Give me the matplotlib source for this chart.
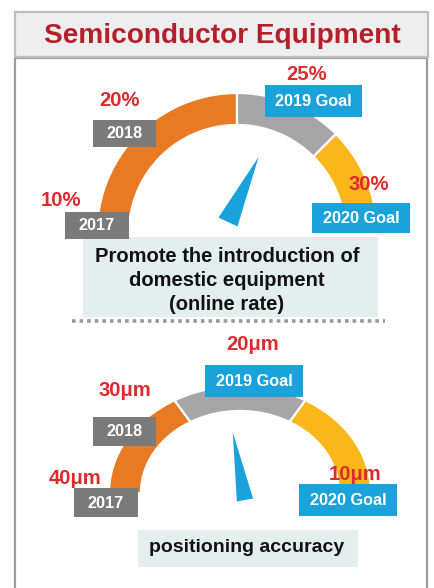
import numpy as np
import matplotlib
matplotlib.use("Agg")
import matplotlib.pyplot as plt
from matplotlib.patches import Rectangle, Polygon

# ---------------- data ----------------
title = "Semiconductor Equipment"
years = ["2017", "2018", "2019 Goal", "2020 Goal"]

g1_values = [10, 20, 25, 30]
g1_labels = ["10%", "20%", "25%", "30%"]
g1_needle = 22.8
g1_caption = ["Promote the introduction of", "domestic equipment", "(online rate)"]

g2_values = [40, 30, 20, 10]
g2_labels = ["40\u03bcm", "30\u03bcm", "20\u03bcm", "10\u03bcm"]
g2_needle = 26.4
g2_caption = ["positioning accuracy"]

# ---------------- style ----------------
ORANGE = "#E87A24"
GRAY = "#A6A6A6"
YELLOW = "#FBB719"
BLUE = "#1AA3DB"
DGRAY = "#7A7A7A"
RED = "#DC2A2E"
TRED = "#B41F2C"
MINT = "#E3EFEC"
FONT = ["Liberation Sans", "DejaVu Sans"]
seg_colors = [ORANGE, GRAY, YELLOW]

fig = plt.figure(figsize=(4.34, 5.88), dpi=100)
ax = fig.add_axes([0, 0, 1, 1])
ax.set_xlim(0, 434)
ax.set_ylim(588, 0)
ax.axis("off")

# frame / title band
ax.add_patch(Rectangle((15, 58), 412, 540, facecolor="white", edgecolor="#9C9C9C", lw=1.6, zorder=0))
ax.add_patch(Rectangle((15, 12), 413, 45, facecolor="#EEEEEE", edgecolor="#BDBDBD", lw=1.6, zorder=1))
ax.text(222, 36, title, color=TRED, fontsize=20.2, fontweight="bold", family=FONT,
        ha="center", va="center", zorder=2)


def val_to_theta(v, vals):
    v0, v1 = vals[0], vals[-1]
    return np.pi * (1 - (v - v0) / (v1 - v0))


def draw_gauge(vals, cx, cy, ao, bo, ai, bi):
    th = [val_to_theta(v, vals) for v in vals]
    for k in range(len(vals) - 1):
        t = np.linspace(th[k], th[k + 1], 80)
        xo = cx + ao * np.cos(t)
        yo = cy - bo * np.sin(t)
        xi = cx + ai * np.cos(t[::-1])
        yi = cy - bi * np.sin(t[::-1])
        pts = np.column_stack([np.r_[xo, xi], np.r_[yo, yi]])
        ax.add_patch(Polygon(pts, closed=True, facecolor=seg_colors[k], edgecolor="white",
                             lw=1.6, zorder=3))


def draw_needle(v, vals, bx, by, ax_, by_, length, width):
    t = val_to_theta(v, vals)
    d = np.array([ax_ * np.cos(t), -by_ * np.sin(t)])
    d = d / np.hypot(*d)
    p = np.array([-d[1], d[0]])
    base = np.array([bx, by])
    tip = base + d * length
    pts = np.array([base + p * width / 2, base - p * width / 2, tip])
    ax.add_patch(Polygon(pts, closed=True, facecolor=BLUE, edgecolor="none", zorder=4))


def draw_box(x, y, w, h, color, text):
    ax.add_patch(Rectangle((x, y), w, h, facecolor=color, edgecolor="none", zorder=5))
    ax.text(x + w / 2, y + h / 2 + 0.5, text, color="white", fontsize=11.7, fontweight="bold",
            family=FONT, ha="center", va="center", zorder=6)


# ---------------- gauge 1 ----------------
draw_gauge(g1_values, 237, 233, 140, 140, 108, 108)
draw_needle(g1_needle, g1_values, 228, 222, 1, 1, 72, 21)
g1_boxes = [(65, 212, 64, 27), (93, 120, 63, 27), (265, 85, 97, 32), (312, 203, 98, 30)]
g1_lab_pos = [(61, 200), (120, 101), (307, 74), (369, 184)]
for i, (bx, lbl, lp) in enumerate(zip(g1_boxes, g1_labels, g1_lab_pos)):
    draw_box(*bx, DGRAY if i < 2 else BLUE, years[i])
    ax.text(lp[0], lp[1], lbl, color=RED, fontsize=14.6, fontweight="bold", family=FONT,
            ha="center", va="center", zorder=7)

ax.add_patch(Rectangle((83, 237), 295, 80, facecolor=MINT, edgecolor="none", zorder=2))
for j, line in enumerate(g1_caption):
    ax.text(227, 257 + 24 * j, line, color="#111111", fontsize=14.5, fontweight="bold",
            family=FONT, ha="center", va="center", zorder=3)

# dotted separator
ax.plot([72, 385], [321, 321], color="#9A9A9A", lw=2.6, ls=(0, (1.0, 1.1)), zorder=3,
        solid_capstyle="butt", dash_capstyle="butt")

# ---------------- gauge 2 ----------------
draw_gauge(g2_values, 240, 493, 131, 107, 99, 82)
draw_needle(g2_needle, g2_values, 245, 500, 131, 107, 69, 16.5)
g2_boxes = [(74, 488, 64, 29), (93, 417, 63, 29), (205, 365, 98, 32), (299, 484, 98, 32)]
g2_lab_pos = [(75, 479), (125, 390), (253, 345), (355, 474)]
for i, (bx, lbl, lp) in enumerate(zip(g2_boxes, g2_labels, g2_lab_pos)):
    draw_box(*bx, DGRAY if i < 2 else BLUE, years[i])
    ax.text(lp[0], lp[1], lbl, color=RED, fontsize=14.6, fontweight="bold", family=FONT,
            ha="center", va="center", zorder=7)

ax.add_patch(Rectangle((138, 530), 220, 37, facecolor=MINT, edgecolor="none", zorder=2))
ax.text(247, 548, g2_caption[0], color="#111111", fontsize=14, fontweight="bold",
        family=FONT, ha="center", va="center", zorder=3)

fig.savefig("out.png", dpi=100)
